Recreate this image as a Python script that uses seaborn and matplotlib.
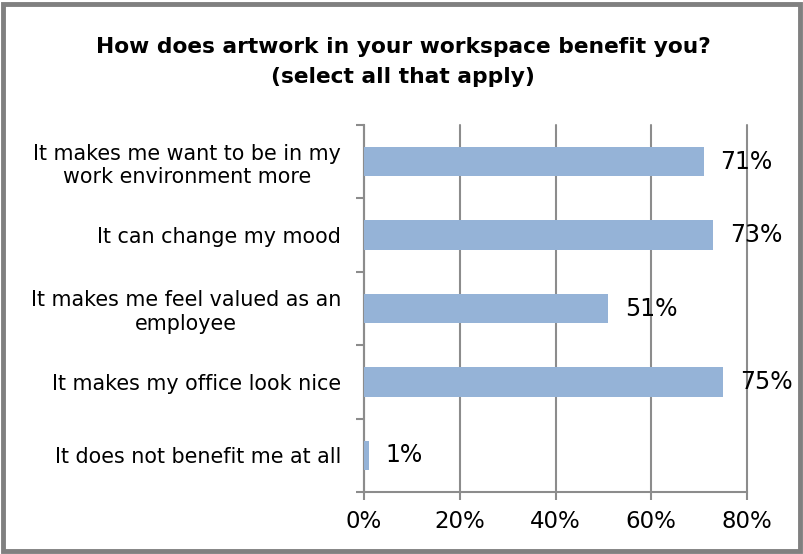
import matplotlib
matplotlib.use("Agg")
import matplotlib.pyplot as plt
import seaborn as sns
import pandas as pd
from matplotlib.patches import Rectangle
from matplotlib.ticker import FixedLocator

categories = [
    "It makes me want to be in my\nwork environment more",
    "It can change my mood",
    "It makes me feel valued as an\nemployee",
    "It makes my office look nice",
    "It does not benefit me at all",
]
values = [71, 73, 51, 75, 1]
x_ticks = [0, 20, 40, 60, 80]
x_tick_labels = ["0%", "20%", "40%", "60%", "80%"]
title = "How does artwork in your workspace benefit you?\n(select all that apply)"

sns.set_theme(style="white")
plt.rcParams["font.family"] = ["DejaVu Sans"]
plt.rcParams["text.color"] = "black"
plt.rcParams["xtick.color"] = "black"
plt.rcParams["ytick.color"] = "black"

df = pd.DataFrame({"category": categories, "value": values})

fig = plt.figure(figsize=(8.04, 5.54), dpi=100)
ax = fig.add_axes([364 / 804, 1 - 492 / 554, (747 - 364) / 804, (492 - 125) / 554])

sns.barplot(data=df, x="value", y="category", orient="h", color="#95B3D7",
            width=0.4, saturation=1, edgecolor="none", ax=ax, zorder=3)

grid_color = "#8C8C8C"
ax.set_xlim(0, 80)
ax.set_ylim(4.5, -0.5)
ax.set_xticks(x_ticks)
ax.set_xticklabels(x_tick_labels, fontsize=16.5, color="black")
ax.xaxis.grid(True, color=grid_color, linewidth=1.5, zorder=0)
ax.set_axisbelow(True)
for gl in ax.get_xgridlines():
    gl.set_clip_on(False)

ax.set_yticks(range(len(categories)))
ax.set_yticklabels(categories, fontsize=14.9, ha="right", multialignment="center",
                   color="black")
ax.yaxis.set_minor_locator(FixedLocator([i - 0.5 for i in range(len(categories) + 1)]))
ax.tick_params(axis="y", which="major", length=0, pad=16.5)
ax.tick_params(axis="y", which="minor", length=6, width=1.5, color=grid_color, left=True)
ax.tick_params(axis="x", which="major", length=6, width=1.5, color=grid_color, bottom=True, pad=7)

ax.set_xlabel("")
ax.set_ylabel("")
for side in ["top", "right"]:
    ax.spines[side].set_visible(False)
for side in ["left", "bottom"]:
    ax.spines[side].set_color(grid_color)
    ax.spines[side].set_linewidth(1.5)

for i, v in enumerate(values):
    ax.annotate(f"{v}%", xy=(v, i), xytext=(12, 0), textcoords="offset points",
                va="center", ha="left", fontsize=17, color="black", zorder=5)

fig.text(403 / 804, 1 - 62 / 554, title, ha="center", va="center",
         fontsize=15.7, fontweight="bold", linespacing=1.6, color="black")

fig.patches.append(Rectangle((3 / 804, 3 / 554), 797 / 804, 547 / 554,
                             transform=fig.transFigure, fill=False,
                             edgecolor="#808080", linewidth=3.5))

fig.savefig("out.png", dpi=100)
